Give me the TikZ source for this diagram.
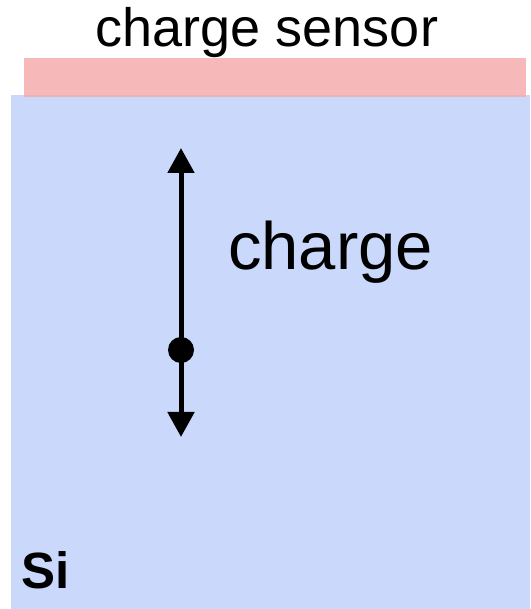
\documentclass[tikz,border=0pt]{standalone}
\usepackage{fontspec}
\setmainfont{Liberation Sans}
\usetikzlibrary{arrows.meta}
\definecolor{siblue}{HTML}{CAD8FB}
\definecolor{sensorpink}{HTML}{F4ABAB}
\tikzset{
  lbl/.style={inner sep=0pt, text=black},
  chargearrow/.style={line width=5pt, -{Triangle[width=26pt,length=25pt]}}
}
\begin{document}
\begin{tikzpicture}[x=1pt,y=1pt]
\useasboundingbox (0,0) rectangle (530,609);
% silicon block
\fill[siblue] (11,0) rectangle (530,514) coordinate (sitop);
% sensor
\fill[sensorpink, opacity=0.85] (24,512) rectangle (526,551);
\node[lbl, font=\fontsize{54}{54}\selectfont, anchor=base] (sensorlabel) at (267,562) {charge sensor};
% charge
\fill[black] (181,259) circle (13pt);
\coordinate (dot) at (181,259);
\coordinate (tiptop) at (181,461);
\coordinate (tipbot) at (181,172);
\draw[chargearrow] (dot) -- (tiptop);
\draw[chargearrow] (dot) -- (tipbot);
\node[lbl, font=\fontsize{67}{67}\selectfont, anchor=base west] (chargelabel) at (228,339) {charge};
\node[lbl, font=\bfseries\fontsize{51}{51}\selectfont, anchor=base west] (si) at (21,20) {Si};
\end{tikzpicture}
\end{document}
